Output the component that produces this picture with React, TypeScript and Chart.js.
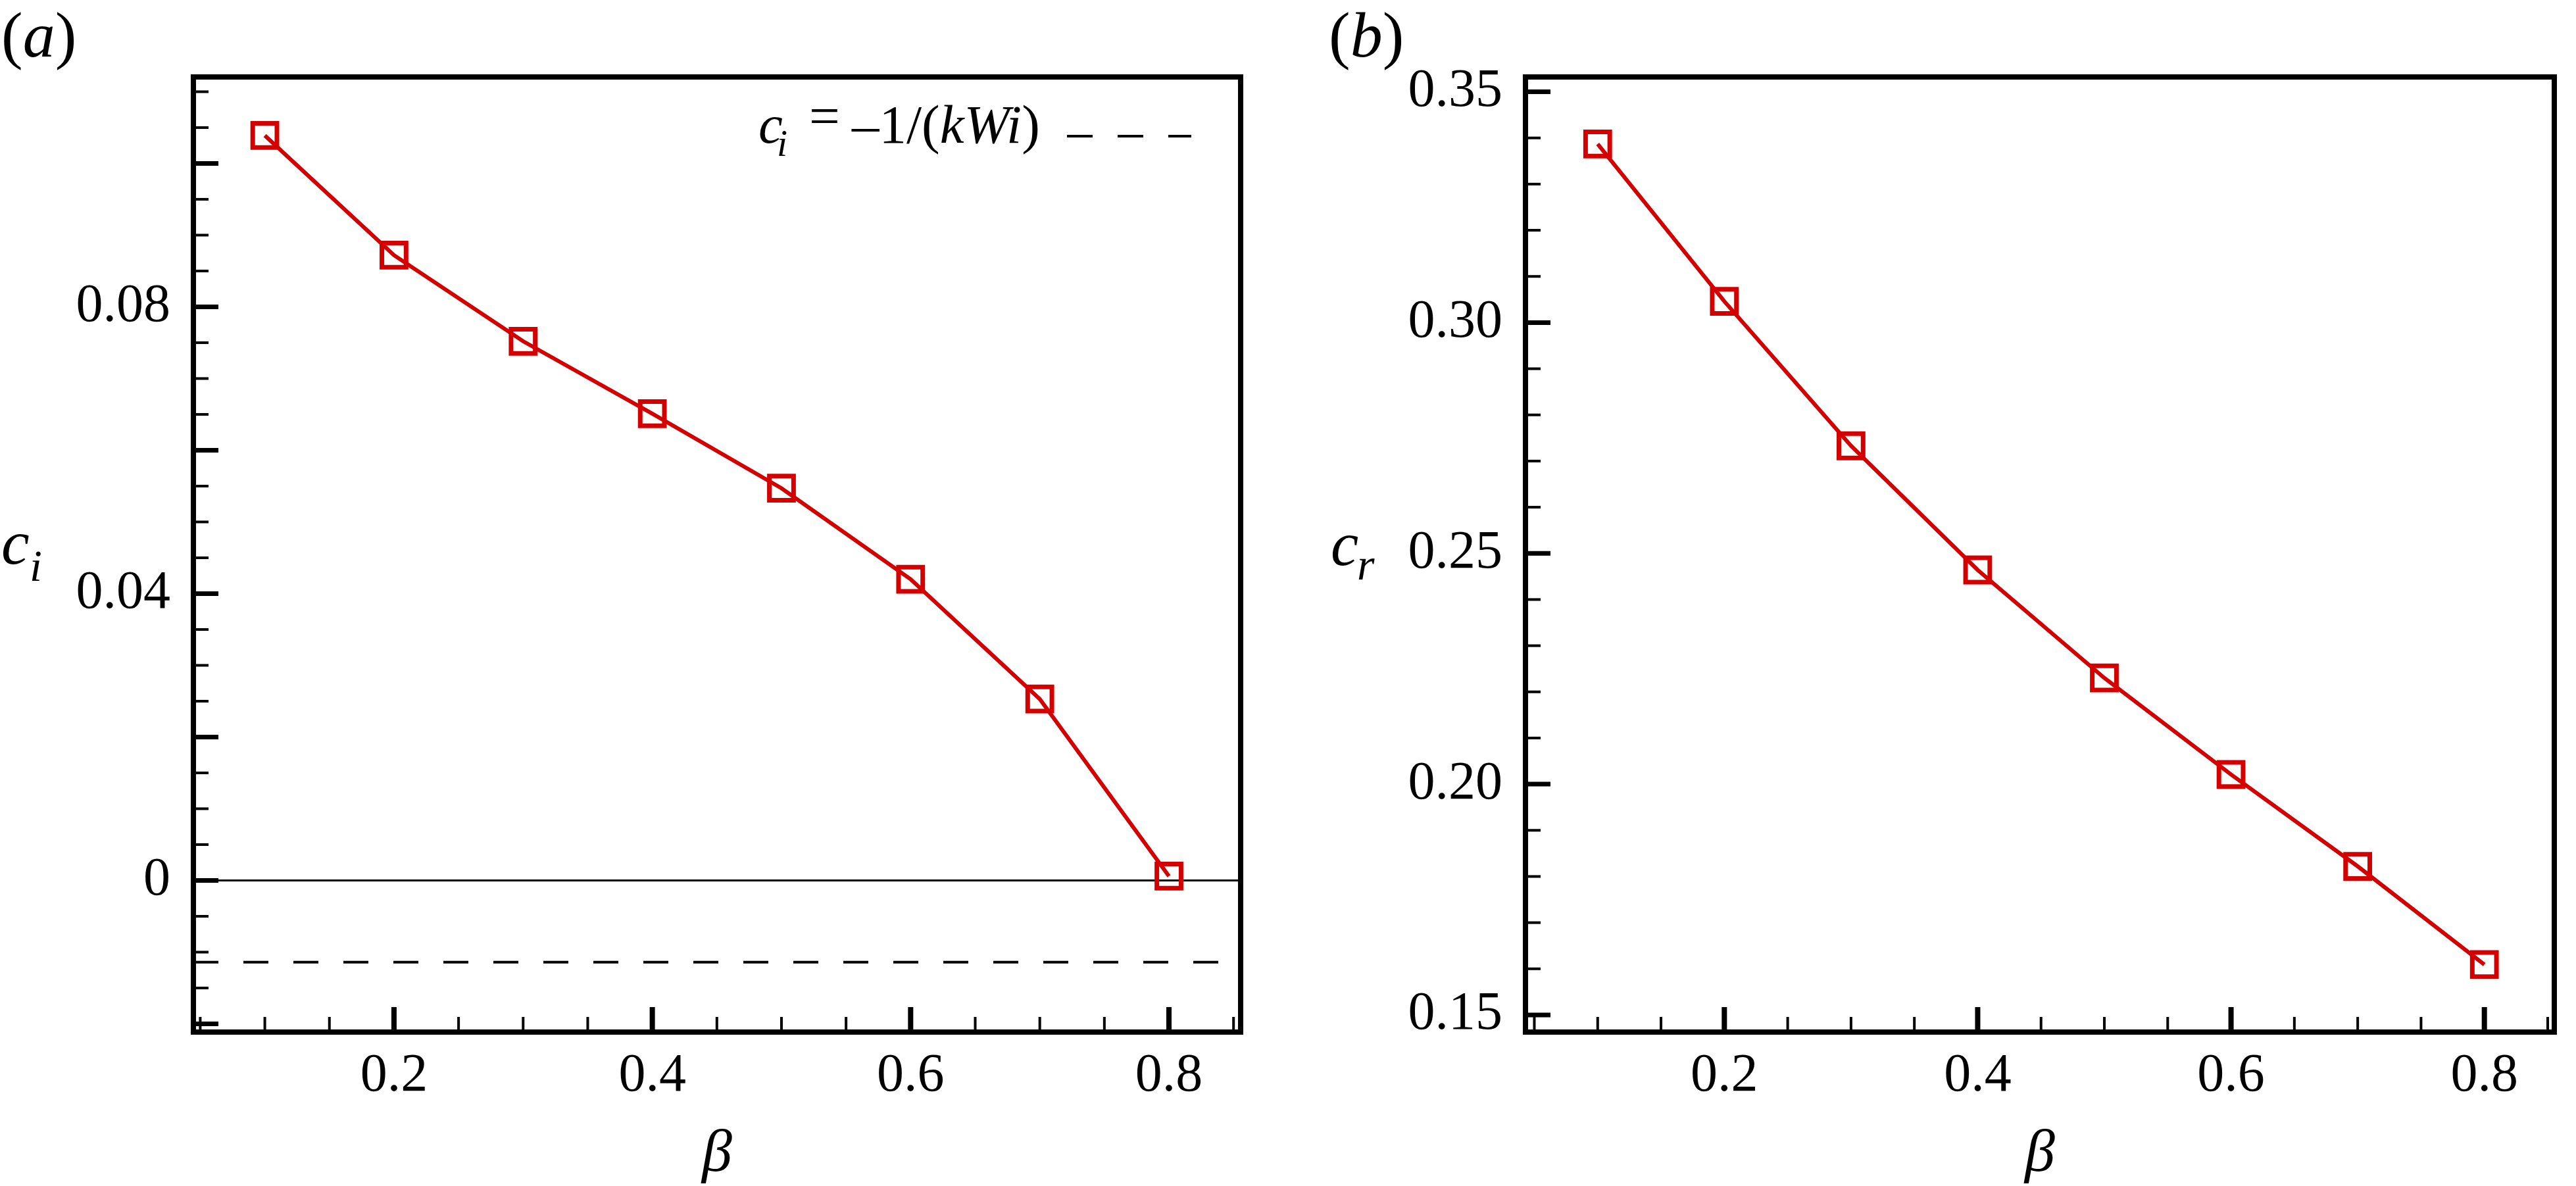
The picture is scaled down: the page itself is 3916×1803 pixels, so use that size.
import React, { useEffect, useRef } from "react";
import { Chart, registerables } from "chart.js";

Chart.register(...registerables);

// beta on the x axis of both panels
const betaValues = [0.1, 0.2, 0.3, 0.4, 0.5, 0.6, 0.7, 0.8];
// (a) growth rate c_i
const ciValues = [0.1039, 0.0872, 0.0752, 0.0651, 0.0547, 0.042, 0.0253, 0.0006];
// (b) phase speed c_r
const crValues = [0.3387, 0.3046, 0.2733, 0.2464, 0.223, 0.2021, 0.1822, 0.1609];
// reference lines in (a)
const ciNeutral = 0;
const ciWeissenberg = -0.0114; // c_i = -1/(kWi)

const betaTicks = [0.2, 0.4, 0.6, 0.8];
const ciTicks = [0, 0.04, 0.08];
const crTicks = [0.15, 0.2, 0.25, 0.3, 0.35];

const SERIF = "'Liberation Serif', 'Times New Roman', serif";
const RED = "rgb(212,0,0)";

type TickSpec = { from: number; to: number; step: number; every: number };

const frameTicks = (xs: TickSpec, ys: TickSpec) => ({
  id: "frameTicks",
  afterDraw(chart: any) {
    const { ctx, chartArea: a, scales } = chart;
    ctx.save();
    ctx.strokeStyle = "#000";
    ctx.lineCap = "butt";
    for (let k = xs.from; k <= xs.to; k++) {
      const major = k % xs.every === 0;
      const px = scales.x.getPixelForValue(k * xs.step);
      ctx.lineWidth = major ? 8 : 4;
      ctx.beginPath();
      ctx.moveTo(px, a.bottom);
      ctx.lineTo(px, a.bottom - 4 - (major ? 34 : 19));
      ctx.stroke();
    }
    for (let k = ys.from; k <= ys.to; k++) {
      const major = k % ys.every === 0;
      const py = scales.y.getPixelForValue(k * ys.step);
      ctx.lineWidth = major ? 7 : 4;
      ctx.beginPath();
      ctx.moveTo(a.left, py);
      ctx.lineTo(a.left + 4 + (major ? 34 : 19), py);
      ctx.stroke();
    }
    ctx.lineWidth = 8;
    ctx.strokeRect(a.left, a.top, a.right - a.left, a.bottom - a.top);
    ctx.restore();
  },
});

const labels = (panel: "a" | "b") => ({
  id: "labels",
  afterDraw(chart: any) {
    const { ctx, chartArea: a } = chart;
    ctx.save();
    ctx.fillStyle = "#000";
    ctx.textBaseline = "alphabetic";
    ctx.textAlign = "left";
    // panel tag
    const tagX = panel === "a" ? 2 : 60;
    ctx.font = `98px ${SERIF}`;
    ctx.fillText("(", tagX, 86);
    let w = ctx.measureText("(").width;
    ctx.font = `italic 98px ${SERIF}`;
    const letter = panel;
    ctx.fillText(letter, tagX + w, 86);
    w += ctx.measureText(letter).width;
    ctx.font = `98px ${SERIF}`;
    ctx.fillText(")", tagX + w, 86);

    // x title
    ctx.font = `italic 92px ${SERIF}`;
    ctx.textAlign = "center";
    ctx.fillText("β", (a.left + a.right) / 2, 1780);
    ctx.textAlign = "left";

    // y title
    if (panel === "a") {
      ctx.font = `italic 96px ${SERIF}`;
      ctx.fillText("c", 2, 857);
      ctx.font = `italic 68px ${SERIF}`;
      ctx.fillText("i", 45, 883);

      // legend entry
      ctx.font = `italic 83px ${SERIF}`;
      ctx.fillText("c", 1153, 217);
      ctx.font = `italic 58px ${SERIF}`;
      ctx.fillText("i", 1181, 237);
      ctx.font = `83px ${SERIF}`;
      ctx.fillText("=", 1230, 204);
      ctx.fillText("–1/(", 1295, 217);
      let lx = 1295 + ctx.measureText("–1/(").width;
      ctx.font = `italic 83px ${SERIF}`;
      ctx.fillText("kWi", lx, 217);
      lx += ctx.measureText("kWi").width;
      ctx.font = `83px ${SERIF}`;
      ctx.fillText(")", lx, 217);

      ctx.strokeStyle = "#000";
      ctx.lineWidth = 4;
      ctx.setLineDash([39, 38]);
      ctx.beginPath();
      ctx.moveTo(1622, 207);
      ctx.lineTo(1811, 207);
      ctx.stroke();
    } else {
      ctx.font = `italic 95px ${SERIF}`;
      ctx.fillText("c", 63, 859);
      ctx.font = `italic 68px ${SERIF}`;
      ctx.fillText("r", 103, 881);
    }
    ctx.restore();
  },
});

const tickFont = { family: SERIF, size: 82 };

const makeConfig = (
  panel: "a" | "b",
  values: number[],
  yMin: number,
  yMax: number,
  xMin: number,
  xMax: number,
  yTicks: number[],
  yFmt: (v: number) => string,
  yWidth: number,
  rightPad: number,
  ySpec: TickSpec
): any => {
  const datasets: any[] = [
    {
      data: betaValues.map((b, i) => ({ x: b, y: values[i] })),
      borderColor: RED,
      borderWidth: 6,
      pointStyle: "rect",
      pointRadius: 26,
      pointBorderWidth: 7,
      pointBorderColor: RED,
      pointBackgroundColor: "rgba(0,0,0,0)",
      tension: 0,
      order: 0,
    },
  ];
  if (panel === "a") {
    datasets.push(
      {
        data: [
          { x: xMin, y: ciNeutral },
          { x: xMax, y: ciNeutral },
        ],
        borderColor: "#000",
        borderWidth: 3,
        pointRadius: 0,
        order: 1,
      },
      {
        data: [
          { x: xMin, y: ciWeissenberg },
          { x: xMax, y: ciWeissenberg },
        ],
        borderColor: "#000",
        borderWidth: 4,
        borderDash: [38, 38],
        pointRadius: 0,
        order: 1,
      }
    );
  }
  return {
    type: "line",
    data: { datasets },
    options: {
      animation: false,
      responsive: false,
      events: [],
      layout: { padding: { top: 117, right: rightPad, bottom: 0, left: 0 } },
      plugins: { legend: { display: false }, tooltip: { enabled: false } },
      scales: {
        x: {
          type: "linear",
          min: xMin,
          max: xMax,
          grid: { display: false, drawTicks: false },
          border: { display: false },
          ticks: {
            font: tickFont,
            color: "#000",
            padding: 18,
            maxRotation: 0,
            autoSkip: false,
            callback: (v: number) => String(v),
          },
          afterBuildTicks: (s: any) => {
            s.ticks = betaTicks.map((value) => ({ value }));
          },
          afterFit: (s: any) => {
            s.height = 234;
          },
        },
        y: {
          type: "linear",
          min: yMin,
          max: yMax,
          grid: { display: false, drawTicks: false },
          border: { display: false },
          ticks: {
            font: tickFont,
            color: "#000",
            padding: 35,
            autoSkip: false,
            callback: (v: number) => yFmt(v),
          },
          afterBuildTicks: (s: any) => {
            s.ticks = yTicks.map((value) => ({ value }));
          },
          afterFit: (s: any) => {
            s.width = yWidth;
          },
        },
      },
    },
    plugins: [
      frameTicks({ from: 1, to: 17, step: 0.05, every: 4 }, ySpec),
      labels(panel),
    ],
  };
};

const App = () => {
  const refA = useRef<HTMLCanvasElement | null>(null);
  const refB = useRef<HTMLCanvasElement | null>(null);

  useEffect(() => {
    document.body.style.margin = "0";
    document.body.style.overflow = "hidden";
    if (!refA.current || !refB.current) return;
    const chartA = new Chart(
      refA.current,
      makeConfig(
        "a",
        ciValues,
        -0.02115,
        0.11206,
        0.0447,
        0.8555,
        ciTicks,
        (v) => String(v),
        294,
        74,
        { from: -4, to: 22, step: 0.005, every: 4 }
      )
    );
    const chartB = new Chart(
      refB.current,
      makeConfig(
        "b",
        crValues,
        0.14629,
        0.35321,
        0.043,
        0.8552,
        crTicks,
        (v) => v.toFixed(2),
        359,
        8,
        { from: 15, to: 35, step: 0.01, every: 5 }
      )
    );
    return () => {
      chartA.destroy();
      chartB.destroy();
    };
  }, []);

  return (
    <div style={{ position: "absolute", left: 0, top: 0, width: 3916, height: 1803, background: "#fff" }}>
      <canvas ref={refA} width={1960} height={1803} style={{ position: "absolute", left: 0, top: 0 }} />
      <canvas ref={refB} width={1956} height={1803} style={{ position: "absolute", left: 1960, top: 0 }} />
    </div>
  );
};

export default App;
